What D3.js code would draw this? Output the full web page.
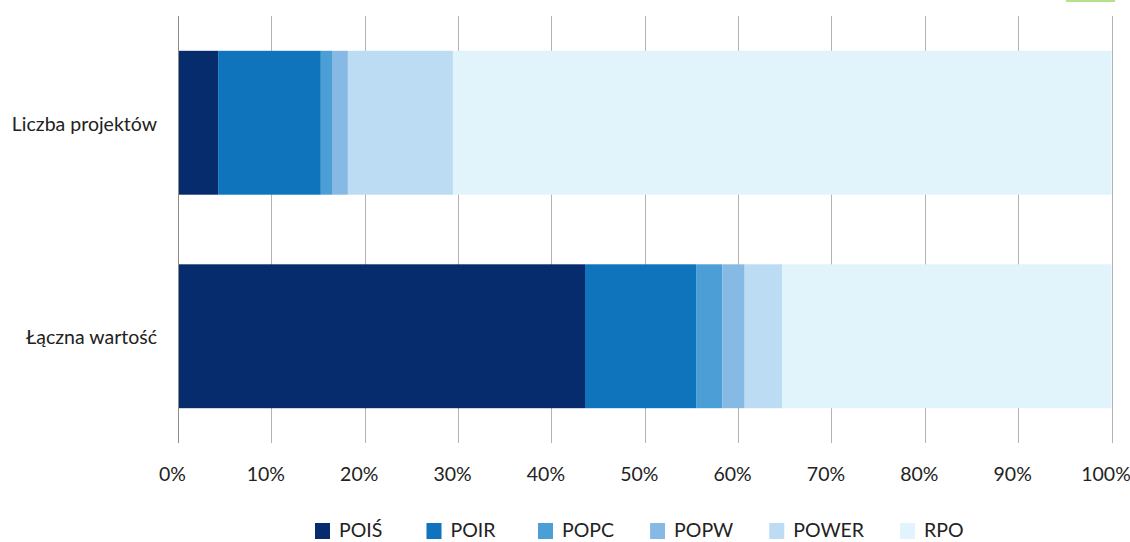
<!DOCTYPE html>
<html>
<head>
<meta charset="utf-8">
<script src="https://cdn.jsdelivr.net/npm/d3@7"></script>
<style>
  html, body { margin: 0; padding: 0; background: #fff; }
  svg { display: block; }
  text { font-family: Lato, "Open Sans", sans-serif; fill: #222; }
</style>
</head>
<body>
<svg id="chart" width="1130" height="542"></svg>
<script>
// Udział programów operacyjnych – liczba projektów i łączna wartość (%)
const categories = ["Liczba projektów", "Łączna wartość"];
const programs = ["POIŚ", "POIR", "POPC", "POPW", "POWER", "RPO"];
const POIS  = [4.3, 43.6];
const POIR  = [11.0, 11.9];
const POPC  = [1.2, 2.8];
const POPW  = [1.7, 2.4];
const POWER = [11.25, 4.0];
const RPO   = [70.55, 35.3];
const tickValues = [0, 10, 20, 30, 40, 50, 60, 70, 80, 90, 100];
const colors = ["#072c6e", "#0f74bb", "#4c9ed6", "#86bae4", "#bbdcf3", "#e1f3fb"];

const seriesByProgram = { "POIŚ": POIS, "POIR": POIR, "POPC": POPC, "POPW": POPW, "POWER": POWER, "RPO": RPO };
const rows = categories.map((c, i) => {
  const r = { category: c };
  programs.forEach(p => { r[p] = seriesByProgram[p][i]; });
  return r;
});

const svg = d3.select("#chart");
const fontSize = "19.5px";

const x = d3.scaleLinear().domain([0, 100]).range([178, 1111.5]);
const y = d3.scaleBand().domain(categories).range([16, 443])
  .paddingInner(0.326).paddingOuter(0.163);
const color = d3.scaleOrdinal().domain(programs).range(colors);

// small accent bar in the top-right corner
svg.append("rect").attr("x", 1066).attr("y", 0).attr("width", 49).attr("height", 2)
  .attr("fill", "#b6e08c");

// vertical gridlines
svg.append("g").selectAll("line").data(tickValues).join("line")
  .attr("x1", d => Math.round(x(d)) + 0.5).attr("x2", d => Math.round(x(d)) + 0.5)
  .attr("y1", 16).attr("y2", 443)
  .attr("stroke", "#b3b3b3").attr("stroke-width", 1);

// stacked bars
const stacked = d3.stack().keys(programs)(rows);
svg.append("g").selectAll("g").data(stacked).join("g")
  .attr("fill", d => color(d.key))
  .selectAll("rect").data(d => d).join("rect")
  .attr("x", d => x(d[0]))
  .attr("width", d => x(d[1]) - x(d[0]))
  .attr("y", d => y(d.data.category))
  .attr("height", y.bandwidth());

// baseline at 0%
svg.append("line")
  .attr("x1", Math.round(x(0)) + 0.5).attr("x2", Math.round(x(0)) + 0.5)
  .attr("y1", 16).attr("y2", 443)
  .attr("stroke", "#8c8c8c").attr("stroke-width", 1);

// x-axis tick labels
const xAxis = d3.axisBottom(x).tickValues(tickValues).tickSize(0).tickFormat(d => d + "%");
const gx = svg.append("g").attr("transform", "translate(-6,443)").call(xAxis);
gx.select(".domain").remove();
gx.selectAll("text").attr("y", 38).attr("dy", 0)
  .style("font-family", "Lato, 'Open Sans', sans-serif")
  .style("font-size", fontSize).attr("fill", "#222");

// category labels
const yAxis = d3.axisLeft(y).tickSize(0).tickPadding(0);
const gy = svg.append("g").attr("transform", "translate(157,0)").call(yAxis);
gy.select(".domain").remove();
gy.selectAll("text").attr("x", 0).attr("dy", "0.4em")
  .style("font-family", "Lato, 'Open Sans', sans-serif")
  .style("font-size", fontSize).attr("fill", "#222");

// legend
const legend = svg.append("g").attr("transform", "translate(315,0)");
let lx = 0;
programs.forEach(p => {
  const item = legend.append("g").attr("transform", `translate(${lx},0)`);
  item.append("rect").attr("x", 0).attr("y", 523).attr("width", 15).attr("height", 16)
    .attr("fill", color(p));
  const t = item.append("text").attr("x", 24).attr("y", 537)
    .style("font-size", fontSize).text(p);
  const w = t.node().getComputedTextLength();
  lx += Math.max(111.5, 24 + w + 36);
});
</script>
</body>
</html>
